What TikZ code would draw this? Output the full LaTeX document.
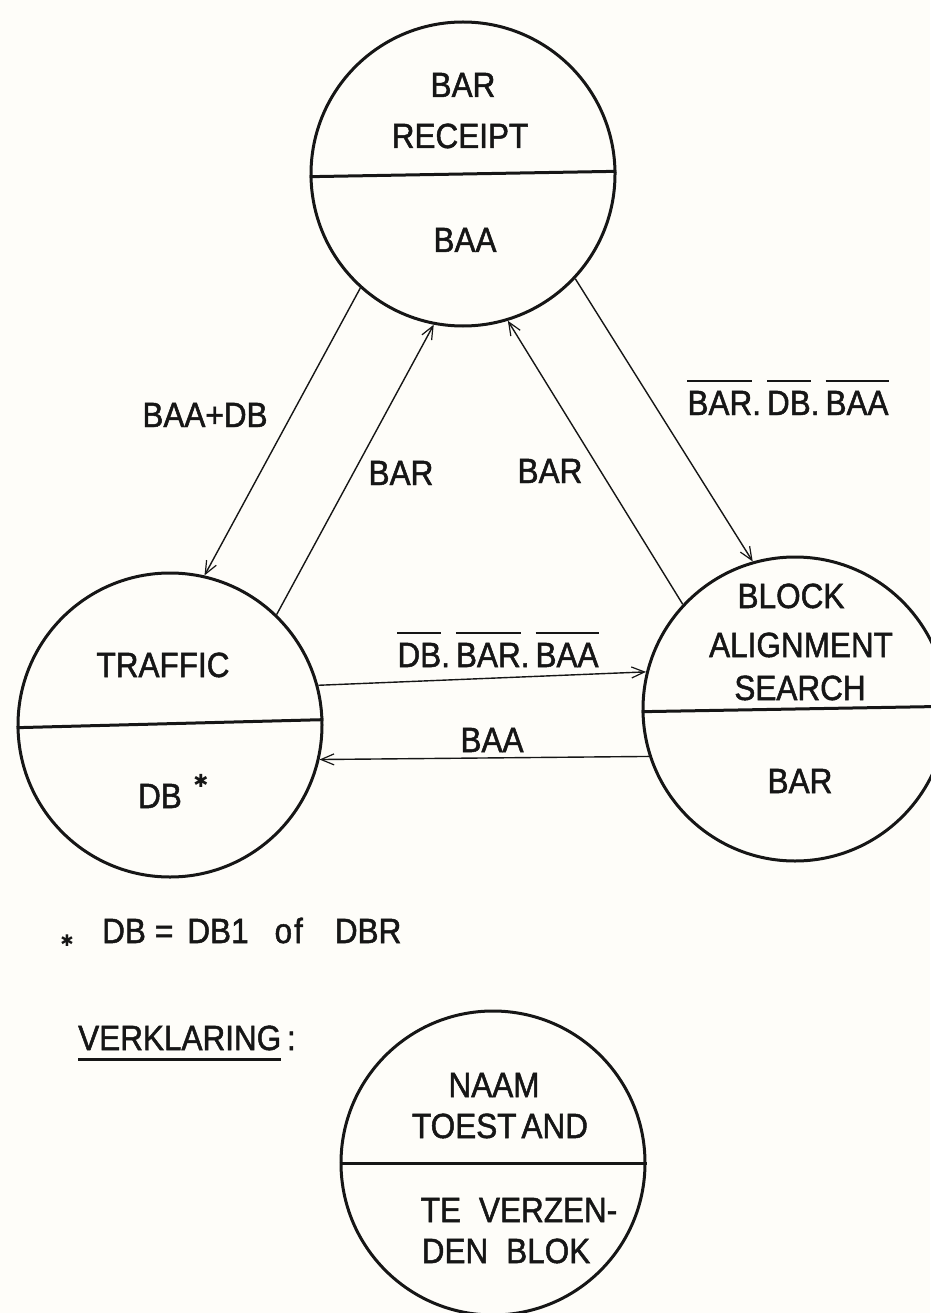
\documentclass[tikz,border=0pt]{standalone}
\usepackage{fontspec}
\setmainfont{Liberation Sans}[FakeStretch=0.9,FakeBold=1.4]
\newfontfamily\symfont{DejaVu Sans}
\usetikzlibrary{arrows.meta}
\definecolor{paper}{RGB}{254,253,249}
\definecolor{ink}{RGB}{22,22,22}
% overlined (negated) signal name
\newcommand\olin[1]{\vbox{\hrule height 2pt\kern 9pt\hbox{#1}}}

\begin{document}
\begin{tikzpicture}[x=1pt,y=-1pt,
  state/.style={circle, draw=ink, line width=3pt, minimum size=304pt, inner sep=0pt},
  lbl/.style={font=\fontsize{35}{40}\selectfont, text=ink, inner sep=0pt, anchor=base},
  trans/.style={draw=ink, line width=1.4pt,
    -{Straight Barb[length=13pt,width=11pt,line width=1.2pt]}},
  divider/.style={draw=ink, line width=3pt}]
\fill[paper] (0,0) rectangle (930,1313);
\useasboundingbox (0,0) rectangle (930,1313);

% states
\node[state] (receipt) at (463,174) {};
\node[state] (traffic) at (170,725) {};
\node[state] (search)  at (795,709) {};
\node[state] (legend)  at (493,1163) {};

\draw[divider] (receipt.181) -- (receipt.1);
\draw[divider] (traffic.181) -- (traffic.2);
\draw[divider] (search.181) -- (search.1.5);
\draw[divider] (legend.180) -- (legend.0);

% state names and blocks to send
\node[lbl] (r1) at (463,97)  {BAR};
\node[lbl] (r2) at (460,148) {RECEIPT};
\node[lbl] (r3) at (465,252) {BAA};

\node[lbl] (t1) at (163,677) {TRAFFIC};
\node[lbl] (t2) at (160,808) {DB};
\node[text=ink, inner sep=0pt, font=\symfont\fontsize{18}{18}\selectfont] (tmark) at (201,781) {✱};

\node[lbl] (s1) at (791,608) {BLOCK};
\node[lbl] (s2) at (801,657) {ALIGNMENT};
\node[lbl] (s3) at (800,700) {SEARCH};
\node[lbl] (s4) at (800,793) {BAR};

\node[lbl] (l1) at (494,1097) {NAAM};
\node[lbl] (l2) at (500,1138) {TOEST\hspace{5pt}AND};
\node[lbl] (l3) at (519,1222) {TE\hspace{18pt}VERZEN-};
\node[lbl] (l4) at (506,1263) {DEN\hspace{18pt}BLOK};

% transitions
\draw[trans] (receipt.-132.6) -- (traffic.77.3);
\draw[trans] (traffic.46.3) -- (receipt.-101.4);
\draw[trans] (search.137.1) -- (receipt.-73.3);
\draw[trans] (receipt.-43.7) -- (search.106.3);
\draw[trans] (traffic.15.9) -- (search.166.1);
\draw[trans] (search.198.2) -- (traffic.-13.9);

% transition conditions
\node[lbl] (c1) at (205,427) {BAA+DB};
\node[lbl] (c2) at (401,485) {BAR};
\node[lbl] (c3) at (550,483) {BAR};
\node[lbl] (c4) at (788,415) {\olin{BAR}.\hspace{6pt}\olin{DB}.\hspace{6pt}\olin{BAA}};
\node[lbl] (c5) at (498,667) {\olin{DB}.\hspace{6pt}\olin{BAR}.\hspace{6pt}\olin{BAA}};
\node[lbl] (c6) at (492,752) {BAA};

% footnote and key
\node[text=ink, inner sep=0pt, font=\symfont\fontsize{16}{16}\selectfont] (fmark) at (67,941) {✱};
\node[lbl, anchor=base west] (foot) at (102,943)
  {DB\hspace{9pt}=\hspace{14pt}DB1\hspace{26pt}o\hspace{2pt}f\hspace{32pt}DBR};
\node[lbl, anchor=base west] (key) at (78,1050)
  {\vtop{\hbox{VERKLARING}\kern 8pt\hrule height 2.5pt}\,:};
\end{tikzpicture}
\end{document}
